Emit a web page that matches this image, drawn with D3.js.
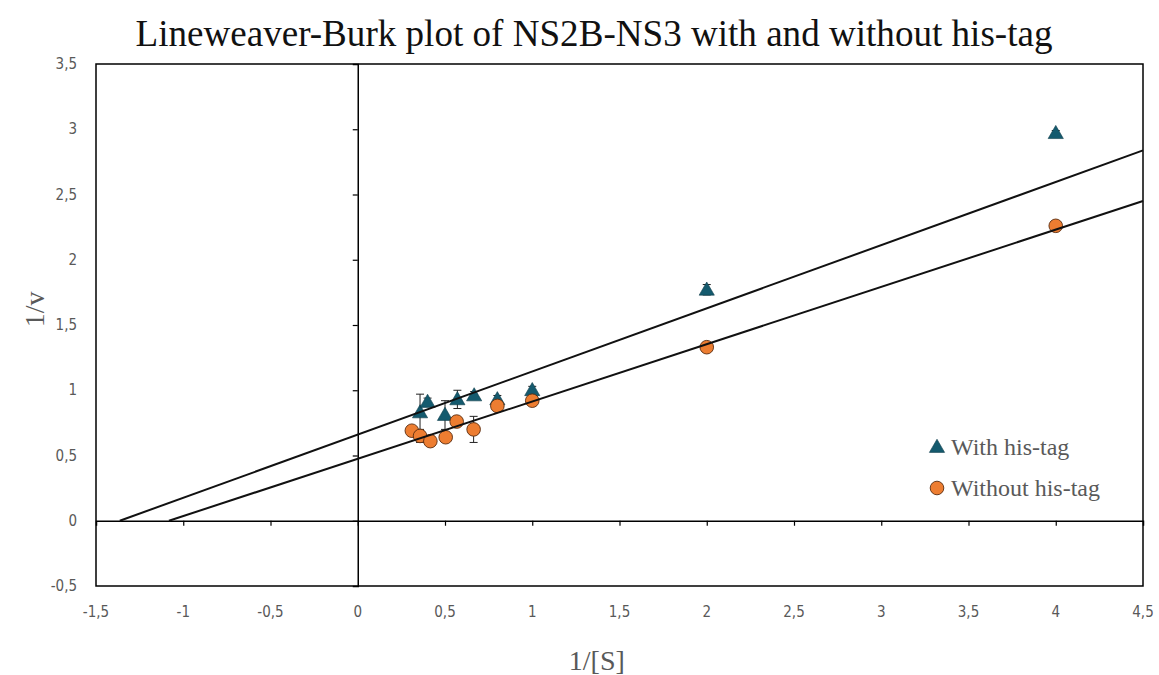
<!DOCTYPE html>
<html>
<head>
<meta charset="utf-8">
<script src="https://cdn.jsdelivr.net/npm/d3@7"></script>
<style>
  body { margin: 0; background: #fff; }
  svg { display: block; }
  .tick-label { font-family: "Liberation Sans Narrow", "DejaVu Sans Condensed", sans-serif; font-size: 15px; fill: #595959; }
  .title { font-family: "Liberation Serif", "DejaVu Serif", serif; font-size: 38px; fill: #111; }
  .axis-title { font-family: "Liberation Serif", "DejaVu Serif", serif; font-size: 28px; fill: #595959; }
  .legend-text { font-family: "Liberation Serif", "DejaVu Serif", serif; font-size: 24px; fill: #595959; }
</style>
</head>
<body>
<svg id="chart"></svg>
<script>
// Series: with his-tag (triangles)
const xWith = [0.357, 0.4, 0.5, 0.571, 0.667, 0.8, 1, 2, 4];
const yWith = [0.83, 0.91, 0.81, 0.93, 0.96, 0.93, 1.0, 1.77, 2.97];
const errWith = [0.14, 0.03, 0.11, 0.07, 0.03, 0.03, 0.03, 0.04, 0.02];

// Series: without his-tag (circles)
const xWithout = [0.31, 0.357, 0.416, 0.504, 0.567, 0.664, 0.8, 1, 2, 4];
const yWithout = [0.69, 0.65, 0.61, 0.64, 0.76, 0.70, 0.88, 0.92, 1.33, 2.26];
const errWithout = [0.02, 0.05, 0.02, 0.02, 0.02, 0.10, 0.02, 0.02, 0.02, 0.02];

// Linear trendlines (with, without)
const trendSlope = [0.484, 0.439];
const trendIntercept = [0.66, 0.475];

// Axis ticks
const xTicks = [-1.5, -1, -0.5, 0, 0.5, 1, 1.5, 2, 2.5, 3, 3.5, 4, 4.5];
const yTicks = [-0.5, 0, 0.5, 1, 1.5, 2, 2.5, 3, 3.5];

const seriesNames = ['With his-tag', 'Without his-tag'];
const seriesColors = ['#145a6e', '#ed7d31'];

const width = 1159, height = 675;
const margin = {top: 64, right: 16, bottom: 89, left: 96};

const svg = d3.select('#chart')
    .attr('width', width)
    .attr('height', height);

const x = d3.scaleLinear()
    .domain([-1.5, 4.5])
    .range([margin.left, width - margin.right]);

const y = d3.scaleLinear()
    .domain([-0.5, 3.5])
    .range([height - margin.bottom, margin.top]);

// Comma decimal separator
const locale = d3.formatLocale({decimal: ',', thousands: '.', grouping: [3], currency: ['', '€']});
const fmt = v => locale.format('')(v).replace('−', '-');

// Title
svg.append('text')
    .attr('class', 'title')
    .attr('x', 594)
    .attr('y', 46)
    .attr('text-anchor', 'middle')
    .attr('textLength', 917)
    .attr('lengthAdjust', 'spacingAndGlyphs')
    .text('Lineweaver-Burk plot of NS2B-NS3 with and without his-tag');

// Tick labels along the frame edges
svg.append('g').selectAll('text')
    .data(xTicks)
    .join('text')
    .attr('class', 'tick-label')
    .attr('x', d => x(d))
    .attr('y', height - margin.bottom + 31)
    .attr('text-anchor', 'middle')
    .text(fmt);

svg.append('g').selectAll('text')
    .data(yTicks)
    .join('text')
    .attr('class', 'tick-label')
    .attr('x', margin.left - 19)
    .attr('y', d => y(d) + 5)
    .attr('text-anchor', 'end')
    .text(fmt);

// Zero axes with outward ticks
const xZero = svg.append('g')
    .attr('transform', 'translate(0,' + y(0) + ')')
    .call(d3.axisBottom(x).tickValues(xTicks.slice(1, -1)).tickSize(5).tickFormat(''));
const yZero = svg.append('g')
    .attr('transform', 'translate(' + x(0) + ',0)')
    .call(d3.axisLeft(y).tickValues(yTicks.slice(1, -1)).tickSize(5).tickFormat(''));
[xZero, yZero].forEach(g => {
    g.select('.domain').attr('stroke', '#000').attr('stroke-width', 1.5);
    g.selectAll('.tick line').attr('stroke', '#000').attr('stroke-width', 1.2);
});

// Frame
svg.append('rect')
    .attr('x', x(-1.5))
    .attr('y', y(3.5))
    .attr('width', x(4.5) - x(-1.5))
    .attr('height', y(-0.5) - y(3.5))
    .attr('fill', 'none')
    .attr('stroke', '#000')
    .attr('stroke-width', 1.5);

// Build series
const series = [
    {name: seriesNames[0], color: seriesColors[0], shape: 'triangle',
     points: xWith.map((d, i) => ({x: d, y: yWith[i], e: errWith[i]}))},
    {name: seriesNames[1], color: seriesColors[1], shape: 'circle',
     points: xWithout.map((d, i) => ({x: d, y: yWithout[i], e: errWithout[i]}))}
];

const tri = d3.symbol().type(d3.symbolTriangle).size(100);

function drawMarker(g, shape, color) {
    if (shape === 'triangle') {
        g.append('path')
            .attr('d', tri)
            .attr('transform', 'translate(0,1)')
            .attr('fill', color)
            .attr('stroke', '#0d3c4a')
            .attr('stroke-width', 0.6);
    } else {
        g.append('circle')
            .attr('r', 6.8)
            .attr('fill', color)
            .attr('stroke', '#5a2d10')
            .attr('stroke-width', 0.9);
    }
}

series.forEach(s => {
    const g = svg.append('g');
    // error bars
    const eb = g.append('g').selectAll('g')
        .data(s.points)
        .join('g')
        .attr('stroke', '#222')
        .attr('stroke-width', 1);
    eb.append('line')
        .attr('x1', d => x(d.x)).attr('x2', d => x(d.x))
        .attr('y1', d => y(d.y + d.e)).attr('y2', d => y(d.y - d.e));
    eb.append('line')
        .attr('x1', d => x(d.x) - 4).attr('x2', d => x(d.x) + 4)
        .attr('y1', d => y(d.y + d.e)).attr('y2', d => y(d.y + d.e));
    eb.append('line')
        .attr('x1', d => x(d.x) - 4).attr('x2', d => x(d.x) + 4)
        .attr('y1', d => y(d.y - d.e)).attr('y2', d => y(d.y - d.e));
    // markers
    g.append('g').selectAll('g')
        .data(s.points)
        .join('g')
        .attr('transform', d => 'translate(' + x(d.x) + ',' + y(d.y) + ')')
        .each(function () { drawMarker(d3.select(this), s.shape, s.color); });
});

// Trendlines, from x-intercept to right edge
const line = d3.line().x(d => x(d[0])).y(d => y(d[1]));
trendSlope.forEach((m, i) => {
    const b = trendIntercept[i];
    const x0 = -b / m;
    svg.append('path')
        .datum([[x0, 0], [4.5, m * 4.5 + b]])
        .attr('d', line)
        .attr('fill', 'none')
        .attr('stroke', '#111')
        .attr('stroke-width', 2);
});

// Axis titles
svg.append('text')
    .attr('class', 'axis-title')
    .attr('x', x(1.37))
    .attr('y', 670)
    .attr('text-anchor', 'middle')
    .text('1/[S]');

svg.append('text')
    .attr('class', 'axis-title')
    .attr('transform', 'translate(44,' + y(1.62) + ') rotate(-90)')
    .attr('text-anchor', 'middle')
    .text('1/v');

// Legend
const legend = svg.append('g')
    .attr('transform', 'translate(937,447)');
series.forEach((s, i) => {
    const item = legend.append('g')
        .attr('transform', 'translate(0,' + (i * 41) + ')');
    drawMarker(item, s.shape, s.color);
    item.append('text')
        .attr('class', 'legend-text')
        .attr('x', 14)
        .attr('y', 8)
        .text(s.name);
});
</script>
</body>
</html>
